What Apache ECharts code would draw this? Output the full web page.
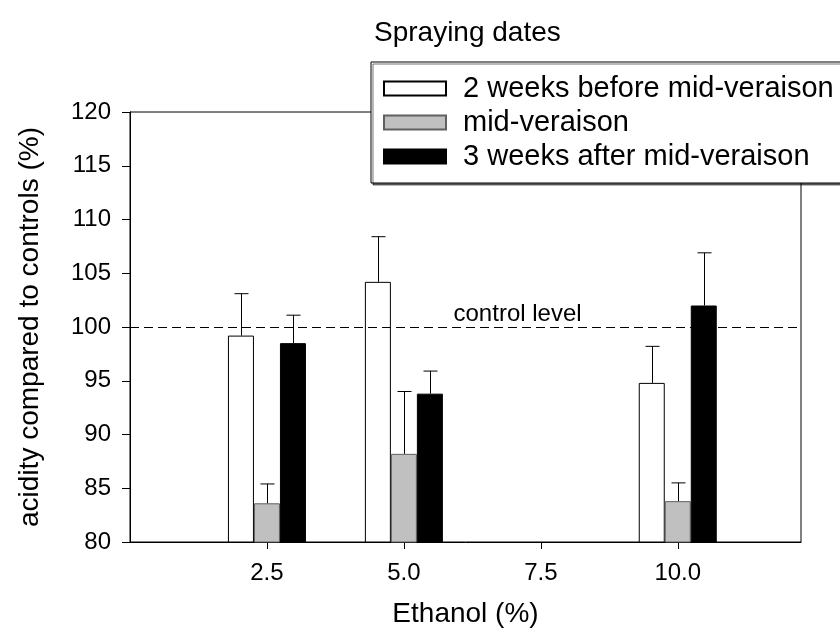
<!DOCTYPE html>
<html><head><meta charset="utf-8">
<script src="https://cdn.jsdelivr.net/npm/echarts@6/dist/echarts.min.js"></script>
<style>html,body{margin:0;padding:0;background:#fff;overflow:hidden}#c{width:840px;height:637px}</style>
</head><body><div id="c"></div>
<script>
const ethanol = [2.5, 5.0, 10.0];
const xTicks = [2.5, 5.0, 7.5, 10.0];
const seriesNames = ['2 weeks before mid-veraison', 'mid-veraison', '3 weeks after mid-veraison'];
const before = [99.2, 104.2, 94.8];
const beforeErr = [3.9, 4.2, 3.4];
const mid = [83.6, 88.2, 83.8];
const midErr = [1.8, 5.8, 1.7];
const after = [98.5, 93.8, 102.0];
const afterErr = [2.6, 2.1, 4.9];
const controlLevel = 100;
const controlLabelX = 7.55;

const FONT = 'Liberation Sans, Arial, sans-serif';
const BW = 26;
const chart = echarts.init(document.getElementById('c'), null, {renderer: 'canvas'});

function barSeries(name, vals, color, border) {
  return {
    name, type: 'bar', barWidth: BW, barGap: '0%',
    data: ethanol.map((x, i) => [x, vals[i]]),
    itemStyle: {color, borderColor: border, borderWidth: 1},
    z: 2
  };
}
function errSeries(vals, errs, idx) {
  return {
    type: 'custom',
    data: ethanol.map((x, i) => [x, vals[i], errs[i]]),
    z: 3,
    renderItem: function (params, api) {
      const x = api.value(0), y = api.value(1), e = api.value(2);
      const p0 = api.coord([x, y]);
      const p1 = api.coord([x, y + e]);
      const cx = Math.round(p0[0] + (idx - 1) * BW) + 0.5;
      const half = 7;
      return {
        type: 'group',
        children: [
          {type: 'line', shape: {x1: cx, y1: p0[1], x2: cx, y2: p1[1]}, style: {stroke: '#000', lineWidth: 1}},
          {type: 'line', shape: {x1: cx - half, y1: p1[1], x2: cx + half, y2: p1[1]}, style: {stroke: '#000', lineWidth: 1}}
        ]
      };
    }
  };
}

const b1 = barSeries(seriesNames[0], before, '#ffffff', '#000');
b1.markLine = {
  silent: true, symbol: 'none',
  lineStyle: {color: '#000', type: [9, 5], width: 1},
  label: {show: false},
  data: [{yAxis: controlLevel}]
};
b1.markPoint = {
  symbol: 'circle', symbolSize: 0,
  label: {show: true, position: 'top', distance: 1, formatter: 'control level', color: '#000', fontSize: 24, fontFamily: FONT},
  data: [{coord: [controlLabelX, controlLevel]}]
};

const option = {
  animation: false,
  backgroundColor: '#fff',
  title: {
    text: 'Spraying dates', left: 369, top: 14,
    textStyle: {fontSize: 28, fontWeight: 'normal', color: '#000', fontFamily: FONT}
  },
  legend: {
    orient: 'vertical', left: 371, top: 62,
    data: seriesNames,
    icon: 'rect', itemWidth: 62, itemHeight: 14, itemGap: 5,
    padding: [12, 40, 12, 12],
    borderColor: '#000', borderWidth: 1, backgroundColor: '#fff',
    shadowColor: 'rgba(0,0,0,0.55)', shadowOffsetX: 2, shadowOffsetY: 2, shadowBlur: 0,
    textStyle: {fontSize: 29, lineHeight: 29, color: '#000', fontFamily: FONT, padding: [0, 0, 0, 12]}
  },
  grid: {left: 130, right: 39, top: 112, bottom: 95, show: true, borderColor: '#000', borderWidth: 1, containLabel: false},
  xAxis: {
    type: 'value', min: 0, max: 12.25, interval: 2.5,
    name: 'Ethanol (%)', nameLocation: 'middle', nameGap: 58,
    nameTextStyle: {fontSize: 28, color: '#000', fontFamily: FONT},
    axisLine: {show: true, lineStyle: {color: '#000', width: 1}},
    axisTick: {show: true, length: 7, lineStyle: {color: '#000'}, customValues: xTicks},
    axisLabel: {color: '#000', fontSize: 24, fontFamily: FONT, margin: 19, customValues: xTicks,
      formatter: v => v.toFixed(1)},
    splitLine: {show: false}
  },
  yAxis: {
    type: 'value', min: 80, max: 120, interval: 5,
    name: 'acidity compared to controls (%)', nameLocation: 'middle', nameGap: 86,
    nameTextStyle: {fontSize: 28, color: '#000', fontFamily: FONT},
    axisLine: {show: true, lineStyle: {color: '#000', width: 1}},
    axisTick: {show: true, length: 8, lineStyle: {color: '#000'}},
    axisLabel: {color: '#000', fontSize: 24, fontFamily: FONT, margin: 19},
    splitLine: {show: false}
  },
  series: [
    b1,
    barSeries(seriesNames[1], mid, '#c0c0c0', '#606060'),
    barSeries(seriesNames[2], after, '#000000', '#000'),
    errSeries(before, beforeErr, 0),
    errSeries(mid, midErr, 1),
    errSeries(after, afterErr, 2)
  ]
};
chart.setOption(option);
</script></body></html>
